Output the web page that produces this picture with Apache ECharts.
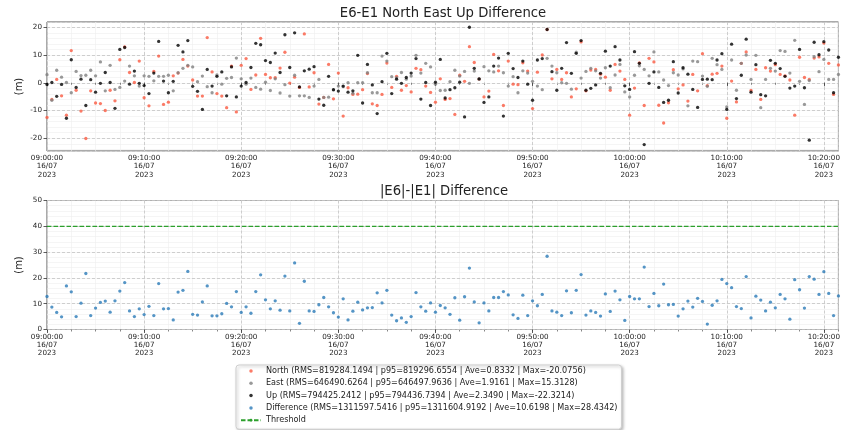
<!DOCTYPE html>
<html>
<head>
<meta charset="utf-8">
<script src="https://cdn.jsdelivr.net/npm/echarts@6.0.0/dist/echarts.min.js"></script>
<style>
  html, body { margin: 0; padding: 0; background: #fff; }
  #chart { width: 843px; height: 430px; }
</style>
</head>
<body>
<div id="chart"></div>
<script>
// sample times: every 30 s from 09:00:00 (x = seconds after start)
const startHour = 9;
const stepSec = 30;
const dayLabel = '16/07';
const yearLabel = '2023';
const threshold = 40;

// North (E6-E1), m
const north = [
  -12.5, -6, 1.2, -4.7, -11.7, 11.6, -2.7, -10.2, -20.1, -2.9,
  -7.3, -7.5, -10, -2.7, -6.5, 8.3, 12.9, 3.7, 0.1, 7.8,
  -5.4, -8.3, 4.1, 9.6, -7.8, -7, 2.5, 3.5, 8.4, 6.0,
  1, -4.8, -4.8, 16.3, 3.9, -3.9, -4.8, -9, 6, -10.5,
  6.3, 8.7, -2.4, 2.8, 16, 3, 1.8, 1.8, 5.3, 11,
  -0.1, 2.0, -1.7, 17.6, -1.5, 3.6, -7.7, -5.3, 6.6, -5.8,
  3.5, -12, -1.8, -4.2, -4.1, -2.5, 3.3, -7.6, -8.2, -4.2,
  7.1, -1.7, 2.3, -2.7, -1, -3.3, 5.2, 4.7, -1.2, -3.5,
  -7, 1.4, -6, -5.7, -11.4, 2.7, 0.5, 13, 7.3, 1.3,
  -5.1, -3, 10.2, 4.3, -8.2, 7.8, -0.5, -0.7, 7.2, 4.2,
  -9.3, 3.8, 10, 19.2, 1.4, 4.8, 1.2, 3.6, -5.1, -2.2,
  14.7, -2.9, 4.6, 4.8, 3.1, 2.0, -2.7, 6.6, 4.2, 1.2,
  -11.7, -1.9, 7.2, -8.2, 8.8, 7.5, -8.1, -14.5, -7.2, 4.7,
  -2.2, -0.8, -6.6, 3.0, -2.9, 10.5, -1, 3.1, 3.4, 6.0,
  -12.8, 0.6, -6.9, 7, 11.1, -2.8, 4.8, -6, 5.4, 4.2,
  6.5, 3.0, 2.5, 1, -11.7, 9.2, 1.9, 1.2, 8.9, 9.3,
  14.3, 7.0, -4.2, 6.4
];
// East
const east = [
  2.9, -6.3, 4.5, 2.0, 0.1, -3.6, 4.1, 2.6, 2.7, 4.5,
  2.5, 7.5, -2.9, 6.3, -2.4, -1.7, 0.6, 6, 2.5, -1.2,
  2.5, 2.3, 0.7, 2.3, 2.3, 2.7, -2.9, 3.6, 5.2, 6.3,
  5.7, 0.4, 2.4, -1.4, -3.6, 2.8, -0.5, 1.6, 1.9, 8.9,
  1.4, -0.5, 1.7, -1.7, -2.3, 0.2, -2.8, 1.4, -3.7, -0.7,
  -4.8, 2.7, -4.7, -4.7, -5.3, -1.2, 1.2, -5.3, -5.2, -2.6,
  -1.2, -1.4, 0, -3.8, 0, 0, 3.6, -3.6, -3.6, 9.6,
  7.8, 2.2, 1.8, 3.7, 1.3, 2.4, 9.9, 3.5, 7, 5.7,
  -0.5, -2.8, -2.7, 0.4, 4.5, 2.4, 4.1, -0.2, 4.2, 1.3,
  5.8, 4.3, 3.9, 6, 3.6, -1.2, 2.2, -3.6, 4.3, 3.5,
  0.5, -1.2, -2.5, 8.8, 6, 3.6, 0, -0.2, -2.3, 11,
  1.7, 4.1, 5.2, 4.3, 1.7, 5.4, -1.8, 2.8, 6.6, -3.3,
  -5.1, 2.7, 6.1, 4.8, 2.5, 11.1, 3.9, 1.0, -1.0, 3.6,
  2.8, 5.0, -8.3, 7.8, 7.6, 2.4, -1.3, 8.8, 6.5, 4.8,
  -8.7, 8.2, -2.7, 7, 10.0, 1.2, 9.9, -9, 1.2, 5.2,
  4.2, 11.6, 11.3, 3.5, 15.3, 0.5, -7.8, 0.8, 9.4, 4,
  8.4, 1.2, 1.2, 3.0
];
// Up
const up = [
  -0.6, 0.1, -4.9, -0.6, -12.8, 8.3, -1.7, 1.3, -8.2, 1.1,
  -3.4, -0.2, 3.7, 0.1, -9.2, 12, 12.7, -0.5, 4.2, -0.2,
  -1, -3.9, 3.5, 14.9, 0.6, -3.6, 0.5, 13.5, 11.1, 15.2,
  -1.3, -3.1, -9.6, 4.8, -1.2, 2.3, 3.9, -4.7, 5.7, -5.1,
  -1.2, 0.1, 5.5, 14.2, 13.7, 8, 7.3, 10.7, 3.7, 17.3,
  5.5, 18, -1.5, 4.3, 4.9, 5.8, -5.9, -8.1, 2.3, -2.5,
  -3, -1.2, -3.4, -2.9, 9.9, -7.3, 6.6, -0.8, -11.1, 0.4,
  10.6, -3.9, 1.3, -0.2, 1.9, 3.5, 8.7, -5.9, 0.1, -8.2,
  0.2, 8.4, -5.5, -2.5, -1.8, 0.2, -12.3, 20, 5.2, 1.4,
  -7.1, -5.1, 6, 8.9, -12, 10.6, 5.1, 1.9, 7.8, -0.5,
  -6.3, 8.2, 8.7, 19.2, 4, -2.7, 5.2, 14.5, 3.4, 10.6,
  15.2, -2.7, -2.0, -0.8, 3.4, 11.4, 6, 13, 8.2, -1.1,
  -2.4, 11.2, 7, -22.3, -0.2, 3.9, -1.7, -7.1, -6.3, 7.6,
  -3.7, 5.4, 3.1, -2.4, -8.9, 1.2, 1.3, 1.1, 8.2, 10.5,
  -9.6, 13.9, -5.7, 2.7, 15.7, -3.4, 6.5, -4.3, -4.7, 8.1,
  7, 5.1, 2.3, -1.9, -1.2, 12, -1.8, -20.7, 14.6, 10.1,
  14.8, 11.8, -3.6, 9.2
];
// |E6|-|E1| difference
const diff = [
  12.8, 8.7, 6.6, 4.9, 16.9, 14.6, 5, 10.2, 21.7, 5.4,
  8.3, 10.5, 11, 6.7, 11.1, 14.9, 18.2, 7.2, 5, 8,
  5.8, 9, 5.4, 17.8, 8, 8.1, 3.7, 14.5, 15.2, 22.5,
  5.9, 5.6, 10.7, 16.9, 5.3, 5.3, 6.1, 10.1, 8.8, 14.7,
  6.6, 8.8, 6.3, 14.7, 21.2, 11.5, 8, 11.1, 7.5, 20.7,
  7.2, 25.8, 2.4, 18.7, 7.2, 7, 9.6, 12.4, 8.8, 6.5,
  4.8, 11.9, 3.7, 7.1, 10.6, 7.6, 8.4, 8.5, 14.2, 10.3,
  15.2, 5.6, 3.4, 4.5, 2.8, 5, 14.3, 8.8, 7.1, 10.3,
  6.7, 9.3, 8.4, 5.9, 12.3, 3.6, 12.7, 23.8, 10.7, 2.6,
  10.3, 7.2, 12.4, 12.4, 14.7, 13.4, 5.7, 4.3, 13.3, 5.4,
  11.1, 9.2, 13.6, 28.4, 7.2, 6.7, 5.4, 15, 6.5, 15.2,
  21.3, 5.6, 7.2, 6.6, 5.2, 13.8, 7, 14.9, 11.5, 3.5,
  12.8, 11.9, 11.9, 24.2, 8.9, 14, 9.2, 17.6, 9.6, 9.7,
  5.2, 8, 11, 8.7, 12.1, 10.9, 2.1, 9.4, 11.1, 19.4,
  17.8, 16.2, 8.9, 8.1, 20.5, 4.5, 12.9, 11.4, 7.2, 10.6,
  8.4, 13.6, 11.9, 4, 19.3, 15.4, 8.3, 20.5, 19.5, 13.6,
  22.4, 14, 5.4, 13
];

const seriesNames = [
  'North (RMS=819284.1494 | p95=819296.6554 | Ave=0.8332 | Max=-20.0756)',
  'East (RMS=646490.6264 | p95=646497.9636 | Ave=1.9161 | Max=15.3128)',
  'Up (RMS=794425.2412 | p95=794436.7394 | Ave=2.3490 | Max=-22.3214)',
  'Difference (RMS=1311597.5416 | p95=1311604.9192 | Ave=10.6198 | Max=28.4342)',
  'Threshold'
];

const tSec = north.map((v, i) => i * stepSec);
const xMax = tSec[tSec.length - 1];
const pair = arr => arr.map((v, i) => [tSec[i], v]);

function pad(n) { return (n < 10 ? '0' : '') + n; }
function timeLabel(sec) {
  let s = Math.round(sec) + startHour * 3600;
  let h = Math.floor(s / 3600), m = Math.floor((s % 3600) / 60), ss = s % 60;
  return pad(h) + ':' + pad(m) + ':' + pad(ss) + '\n' + dayLabel + '\n' + yearLabel;
}

let font = 'DejaVu Sans';
let tickText = { fontFamily: font, fontSize: 7.2, color: '#222' };
let majorSplit = { show: true, lineStyle: { color: '#c4c4c4', width: 0.8, type: [3, 2] } };
let minorSplit = { show: true, lineStyle: { color: '#efefef', width: 0.6 } };

function xMajor(grid) {
  return {
    type: 'value', gridIndex: grid, min: 0, max: xMax,
    minInterval: 600, maxInterval: 600, z: 1,
    axisLine: { show: false },
    axisTick: { show: true, length: 3.5, lineStyle: { color: '#333', width: 0.8 } },
    axisLabel: Object.assign({ margin: 3, lineHeight: 8.4, showMaxLabel: false,
      formatter: v => timeLabel(v) }, tickText),
    splitLine: majorSplit
  };
}
function xMinor(grid) {
  return {
    type: 'value', gridIndex: grid, min: 0, max: xMax, position: 'bottom',
    minInterval: 150, maxInterval: 150, z: 0,
    axisLine: { show: false },
    axisTick: { show: true, length: 2, lineStyle: { color: '#333', width: 0.6 } },
    axisLabel: { show: false },
    splitLine: minorSplit
  };
}
function yMajor(grid, mn, mx) {
  return {
    type: 'value', gridIndex: grid, min: mn, max: mx,
    minInterval: 10, maxInterval: 10, z: 1,
    name: '(m)', nameLocation: 'middle', nameGap: 23, nameMoveOverlap: false,
    nameTextStyle: { fontFamily: font, fontSize: 10, color: '#222' },
    axisLine: { show: false },
    axisTick: { show: true, length: 3.5, lineStyle: { color: '#333', width: 0.8 } },
    axisLabel: Object.assign({ margin: 5, showMinLabel: grid === 1, showMaxLabel: grid === 1 }, tickText),
    splitLine: majorSplit
  };
}
function yMinor(grid, mn, mx) {
  return {
    type: 'value', gridIndex: grid, min: mn, max: mx, position: 'left',
    minInterval: 2, maxInterval: 2, z: 0,
    axisLine: { show: false }, axisTick: { show: false }, axisLabel: { show: false },
    splitLine: minorSplit
  };
}

let chart = echarts.init(document.getElementById('chart'), null, { renderer: 'canvas' });
let titleText = { fontFamily: font, fontSize: 13.2, fontWeight: 'normal', color: '#222' };
let option = {
  animation: false,
  backgroundColor: '#fff',
  textStyle: { fontFamily: font },
  title: [
    { text: 'E6-E1 North East Up Difference', left: 443, top: 7, textAlign: 'center', padding: 0,
      textStyle: titleText },
    { text: '|E6|-|E1| Difference', left: 444, top: 185.5, textAlign: 'center', padding: 0,
      textStyle: titleText }
  ],
  grid: [
    { left: 47, right: 4, top: 22, height: 129, show: true, borderColor: '#555', borderWidth: 1, backgroundColor: 'transparent' },
    { left: 47, right: 4, top: 200.5, height: 129, show: true, borderColor: '#555', borderWidth: 1, backgroundColor: 'transparent' }
  ],
  xAxis: [xMajor(0), xMinor(0), xMajor(1), xMinor(1)],
  yAxis: [yMajor(0, -24.6, 21.9), yMinor(0, -24.6, 21.9), yMajor(1, 0, 50), yMinor(1, 0, 50)],
  legend: {
    orient: 'vertical', left: 236, top: 365,
    padding: [2, 4, 5, 4], itemGap: 4.3, itemWidth: 20, itemHeight: 3.5,
    backgroundColor: '#fff', borderColor: '#cfcfcf', borderWidth: 1, borderRadius: 3,
    shadowColor: 'rgba(0,0,0,0.25)', shadowBlur: 3, shadowOffsetX: 1.5, shadowOffsetY: 1.5,
    textStyle: { fontFamily: font, fontSize: 8.1, color: '#222' },
    data: [
      { name: seriesNames[0], icon: 'circle' },
      { name: seriesNames[1], icon: 'circle' },
      { name: seriesNames[2], icon: 'circle' },
      { name: seriesNames[3], icon: 'circle' },
      { name: seriesNames[4] }
    ]
  },
  series: [
    { name: seriesNames[0], type: 'scatter', xAxisIndex: 0, yAxisIndex: 0, symbolSize: 3.3,
      itemStyle: { color: '#fa5a41' }, data: pair(north) },
    { name: seriesNames[1], type: 'scatter', xAxisIndex: 0, yAxisIndex: 0, symbolSize: 3.3,
      itemStyle: { color: '#808080' }, data: pair(east) },
    { name: seriesNames[2], type: 'scatter', xAxisIndex: 0, yAxisIndex: 0, symbolSize: 3.3,
      itemStyle: { color: '#000' }, data: pair(up) },
    { name: seriesNames[3], type: 'scatter', xAxisIndex: 2, yAxisIndex: 2, symbolSize: 3.3,
      itemStyle: { color: '#2a7ab8' }, data: pair(diff) },
    { name: seriesNames[4], type: 'line', xAxisIndex: 2, yAxisIndex: 2, symbol: 'none',
      itemStyle: { color: '#2ca02c' },
      lineStyle: { color: '#2ca02c', width: 1.3, type: [4.5, 2] },
      data: [[0, threshold], [xMax, threshold]] }
  ]
};
chart.setOption(option);
</script>
</body>
</html>
